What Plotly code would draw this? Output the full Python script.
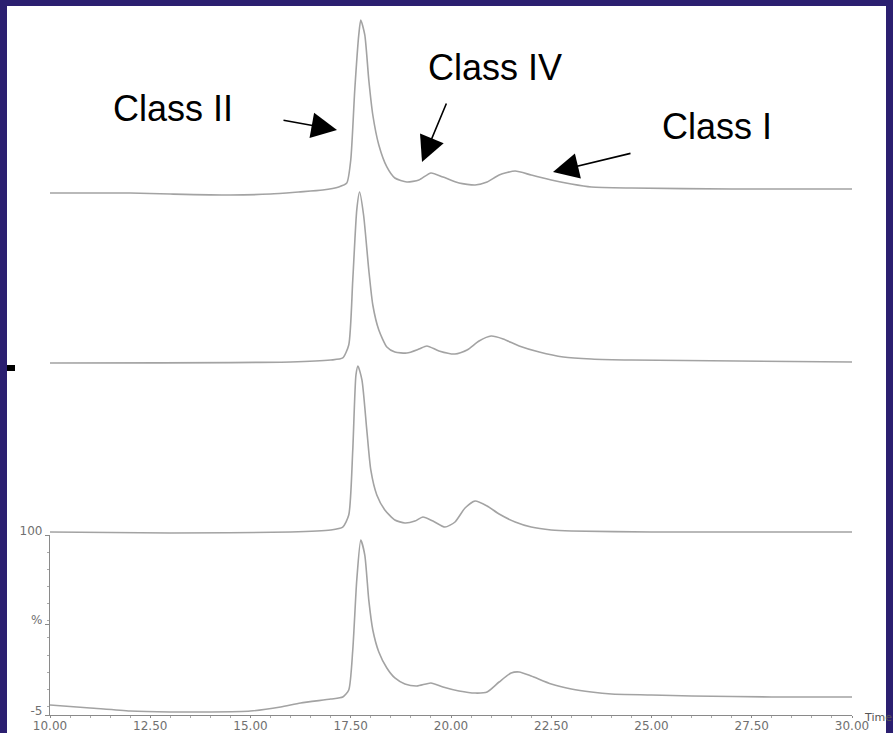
import plotly.graph_objects as go

# Retention time (min) and relative intensity (%) for four stacked chromatograms (top -> bottom)
time_1 = [10, 12, 13, 14.5, 15.5, 16.2, 16.8, 17.2, 17.4, 17.5, 17.6, 17.7, 17.75, 17.85, 17.95, 18.05,
          18.2, 18.4, 18.6, 18.9, 19.2, 19.5, 19.8, 20.2, 20.6, 20.9, 21.2, 21.6, 22.0, 22.5, 23.0, 23.5,
          24.5, 27, 30]
int_1 = [-1.5, -1.5, -2.1, -2.7, -2.1, -0.9, 0.25, 2.0, 4.3, 17.75, 58.6, 90.7, 99.4, 90.7, 64.4, 44,
         26.5, 13.7, 7.25, 4.9, 6.1, 10.2, 7.8, 4.3, 3.2, 4.9, 9, 11.3, 9, 6.1, 3.75, 2.0,
         1.4, 0.83, 0.83]

time_2 = [10, 16, 17.0, 17.3, 17.45, 17.55, 17.65, 17.72, 17.82, 17.95, 18.05, 18.2, 18.4, 18.6, 18.9,
          19.2, 19.4, 19.7, 20.1, 20.4, 20.7, 21.0, 21.3, 21.7, 22.2, 22.8, 23.5, 24.5, 30]
int_2 = [-0.33, 0.25, 1.4, 2.6, 10.2, 48, 89, 99.4, 86, 53.9, 33.5, 18.9, 9, 6.1, 5.5,
         7.8, 9.6, 6.7, 4.9, 7.25, 12.5, 15.4, 13.7, 9.6, 6.1, 3.2, 2.0, 1.4, 0.25]

time_3 = [10, 13, 16, 17, 17.3, 17.45, 17.55, 17.63, 17.68, 17.78, 17.9, 18.0, 18.15, 18.35, 18.6, 18.85,
          19.1, 19.3, 19.55, 19.85, 20.1, 20.35, 20.6, 20.9, 21.2, 21.6, 22.0, 22.5, 23, 25, 30]
int_3 = [1.4, 0.83, 1.4, 2.6, 4.3, 11.3, 49.25, 93, 98.25, 90, 61, 37.6, 23, 14.25, 8.4, 6.7,
         7.8, 10.2, 7.8, 4.3, 7.25, 15.4, 19.5, 16.6, 11.9, 7.25, 4.3, 2.6, 2.0, 1.4, 1.4]

time_4 = [10, 11, 12, 13, 14, 15, 15.75, 16.25, 17, 17.3, 17.45, 17.55, 17.65, 17.75, 17.85, 17.95,
          18.05, 18.2, 18.4, 18.6, 18.85, 19.15, 19.5, 19.8, 20.2, 20.6, 20.9, 21.2, 21.5, 21.7, 22.0,
          22.5, 23.0, 23.5, 24, 25, 26, 28, 30]
int_4 = [0.83, -0.9, -2.7, -3.25, -3.25, -2.7, -0.33, 2.0, 4.3, 5.5, 9.6, 32.9, 73.75, 97, 88.3, 62,
         44.6, 31.75, 22.4, 16.6, 13.1, 11.9, 13.7, 11.3, 9, 7.8, 8.4, 14.25, 19.5, 20.1, 17.75,
         13.1, 10.2, 8.4, 7.25, 6.7, 6.1, 5.5, 5.5]

x_ticks = [10, 12.5, 15, 17.5, 20, 22.5, 25, 27.5, 30]
y_tickvals = [-5, 48, 100]
y_ticktext = ["-5", "%", "100"]

labels = ["Class II", "Class IV", "Class I"]

W, H = 893, 733
ML, MR, MT, MB = 50, 41, 10, 18
PW, PH = W - ML - MR, H - MT - MB


def px(x):
    return (x - ML) / PW


def py(y):
    return (H - MB - y) / PH


panel_px = 180
step_px = 172
doms = []
for k in range(4):
    bottom = H - MB - k * step_px
    doms.append([py(bottom), py(bottom - panel_px)])

navy = "#2b1f70"
line_col = "#a3a3a3"
tick_col = "#707070"

fig = go.Figure()
series = [(time_4, int_4, "y"), (time_3, int_3, "y2"), (time_2, int_2, "y3"), (time_1, int_1, "y4")]
for t, v, ya in series:
    fig.add_trace(go.Scatter(x=t, y=v, xaxis="x", yaxis=ya, mode="lines",
                             line=dict(color=line_col, width=1.6, shape="spline", smoothing=0.6),
                             hoverinfo="skip", showlegend=False))

xtickfont = dict(family="DejaVu Sans", size=12, color=tick_col)
ytickfont = dict(family="DejaVu Sans", size=12, color=tick_col)

layout = dict(
    width=W, height=H,
    margin=dict(l=ML, r=MR, t=MT, b=MB, autoexpand=False),
    paper_bgcolor=navy, plot_bgcolor="rgba(0,0,0,0)",
    showlegend=False,
    xaxis=dict(range=[10, 30], tickvals=x_ticks, tickformat=".2f", showgrid=False, zeroline=False,
               showline=True, linecolor="#8a8a8a", linewidth=1.2, ticks="outside", ticklen=2,
               tickcolor="#8a8a8a", tickfont=xtickfont, anchor="y", automargin=False,
               ticklabelstandoff=-3,
               minor=dict(dtick=0.5, ticklen=2, tickcolor="#aaaaaa", ticks="outside")),
    yaxis=dict(domain=doms[0], range=[-5, 100], tickvals=y_tickvals, ticktext=y_ticktext,
               showgrid=False, zeroline=False, showline=True, linecolor="#8a8a8a", linewidth=1.2,
               ticks="outside", ticklen=4, tickcolor="#8a8a8a", tickfont=ytickfont, automargin=False,
               ticklabelshift=-4,
               minor=dict(dtick=10, ticklen=2, tickcolor="#aaaaaa", ticks="outside")),
)
for i in range(1, 4):
    layout[f"yaxis{i+1}"] = dict(domain=doms[i], range=[-5, 100], visible=False, anchor="x")
fig.update_layout(**layout)

# white slide area and border
fig.add_shape(type="rect", xref="paper", yref="paper", x0=px(7), x1=px(886), y0=py(H + 5), y1=py(6),
              fillcolor="white", line=dict(width=0), layer="below")
fig.add_shape(type="rect", xref="paper", yref="paper", x0=px(7), x1=px(15), y0=py(371), y1=py(365),
              fillcolor="black", line=dict(width=0), layer="above")

# class labels
label_pos = [(173, 109), (495, 67), (717, 126)]
for txt, (lx, ly) in zip(labels, label_pos):
    fig.add_annotation(text=txt, xref="paper", yref="paper", x=px(lx), y=py(ly), showarrow=False,
                       xanchor="center", yanchor="middle",
                       font=dict(family="Liberation Sans, Arial", size=36, color="black"))

arrows = [((337, 130), (282, 120)), ((422, 162), (447, 102)), ((553, 172), (632, 153))]
for (hx, hy), (tx, ty) in arrows:
    fig.add_annotation(text="", xref="paper", yref="paper", x=px(hx), y=py(hy),
                       ax=tx - hx, ay=ty - hy, showarrow=True, arrowhead=2, arrowsize=3.2,
                       arrowwidth=1.6, arrowcolor="black")

fig.add_annotation(text="Time", xref="paper", yref="paper", x=px(862), y=py(718), showarrow=False,
                   xanchor="left", yanchor="middle", font=dict(family="DejaVu Sans", size=11, color="#555555"))

fig.write_html("out.html", config={"displayModeBar": False},
               post_script="document.body.style.margin='0';document.body.style.overflow='hidden';")
